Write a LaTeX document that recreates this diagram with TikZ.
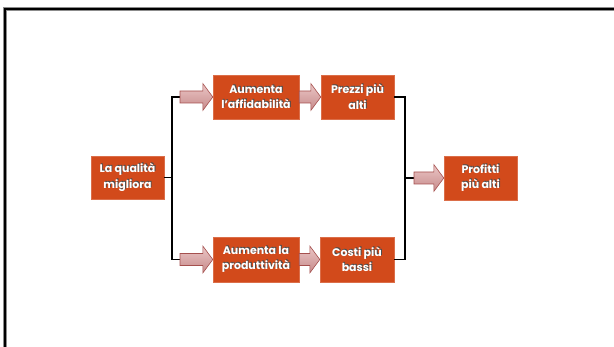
\documentclass[tikz,border=0pt]{standalone}
\usepackage{fontspec}
\setmainfont{Poppins}
\usetikzlibrary{calc}
\definecolor{boxfill}{HTML}{D24A1B}
\definecolor{arrtop}{HTML}{EBC6C6}
\definecolor{arrbot}{HTML}{C68A8A}
\definecolor{arredge}{HTML}{A5504E}
\tikzset{
  qbox/.style={fill=boxfill, draw=boxfill!80!white, line width=0.4pt, inner sep=0pt},
  qtext/.style={text=white, align=center, font=\fontsize{11}{15.5}\selectfont\bfseries, inner sep=0pt},
  qshadow/.style={qtext, text=black!70},
  link/.style={draw=black, line width=1.6pt},
  blockarrow/.style={draw=arredge, line width=0.6pt, top color=arrtop, bottom color=arrbot},
}
% box with a drop-shadowed caption: name, centre, width, height, text
\newcommand{\qnode}[5]{%
  \node[qbox, minimum width=#3, minimum height=#4] (#1) at (#2) {};
  \node[qshadow] (#1-sh) at ($(#2)+(0.9pt,0.9pt)$) {#5};
  \node[qtext] (#1-txt) at (#2) {#5};
}
% fat arrow from a coordinate to the west side of a node
\newcommand{\fatarrow}[2]{%
  \path[blockarrow] let \p1=(#1), \p2=(#2.west) in
    (\x1,\y1+6pt) -- (\x2-10pt,\y1+6pt) -- (\x2-10pt,\y1+13.5pt) -- (\x2,\y1)
    -- (\x2-10pt,\y1-13.5pt) -- (\x2-10pt,\y1-6pt) -- (\x1,\y1-6pt) -- cycle;
}
\begin{document}
\begin{tikzpicture}[x=1pt,y=-1pt]
\useasboundingbox (0,0) rectangle (614,347);
% slide frame
\draw[black!45, line width=3.2pt] (5,360) -- (5,9) -- (630,9);
\draw[black, line width=2pt] (5,360) -- (5,9) -- (630,9);

\qnode{qual}{127.5,177.5}{73pt}{43pt}{La qualità\\migliora}
\qnode{aff}{256,97}{86pt}{44pt}{Aumenta\\l’affidabilità}
\qnode{prez}{357.5,97}{73pt}{44pt}{Prezzi più\\alti}
\qnode{prod}{256,259.5}{86pt}{45pt}{Aumenta la\\produttività}
\qnode{cost}{357,259.5}{74pt}{45pt}{Costi più\\bassi}
\qnode{prof}{480.5,178}{73pt}{44pt}{Profitti\\più alti}

% branching lines
\coordinate (lsplit) at (172,177.5);
\coordinate (ltop) at (172,97);
\coordinate (lbot) at (172,259.5);
\coordinate (atop) at (180,97);
\coordinate (abot) at (180,259.5);
\coordinate (rtop) at (405,97);
\coordinate (rbot) at (405,259.5);
\coordinate (rmid) at (405,178);
\coordinate (amid) at (414,178);
\draw[link] (qual.east) -- (lsplit);
\draw[link] (atop) -- (ltop) -- (lbot) -- (abot);
\draw[link] (prez.east) -- (rtop) -- (rbot) -- (cost.east);
\draw[link] (rmid) -- (amid);

% fat arrows
\fatarrow{atop}{aff}
\fatarrow{abot}{prod}
\fatarrow{aff.east}{prez}
\fatarrow{prod.east}{cost}
\fatarrow{amid}{prof}
\end{tikzpicture}
\end{document}
